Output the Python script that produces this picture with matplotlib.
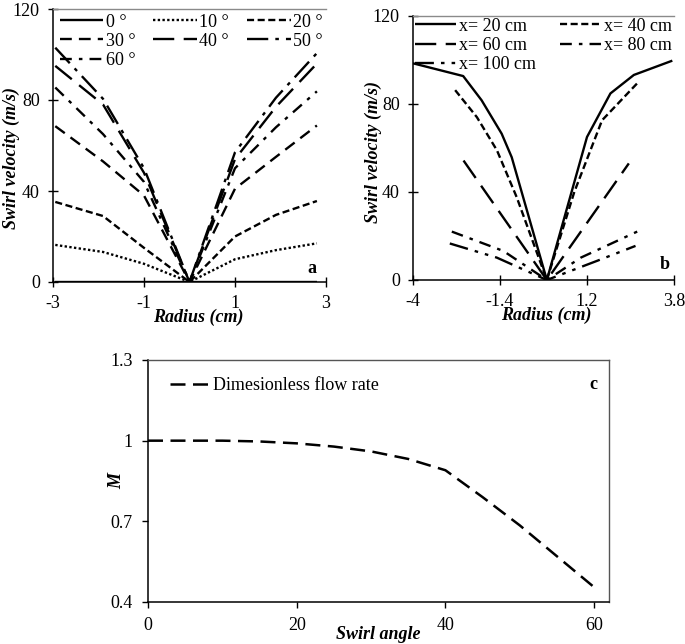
import matplotlib
matplotlib.use("Agg")
import matplotlib.pyplot as plt

plt.rcParams['font.family'] = ['Liberation Serif', 'DejaVu Serif']
plt.rcParams['mathtext.fontset'] = 'stix'

# ---------------- data ----------------
# panel a: swirl velocity vs radius for swirl angles
radius_a = [-2.95, -1.9, -1.0, 0.0, 1.0, 1.9, 2.8]
angle_labels = ['0 °', '10 °', '20 °', '30 °', '40 °', '50 °', '60 °']
v_0 = [0, 0, 0, 0, 0, 0, 0]
v_10 = [16.3, 13.2, 8.0, 0, 10.0, 14.0, 17.0]
v_20 = [35.2, 29.0, 15.0, 0, 20.0, 29.5, 35.6]
v_30 = [68.5, 53.0, 38.0, 0, 41.0, 55.0, 68.8]
v_40 = [95.0, 78.0, 48.0, 0, 54.0, 77.0, 96.0]
v_50 = [103.0, 80.5, 50.0, 0, 57.0, 81.0, 100.6]
v_60 = [85.5, 65.0, 44.0, 0, 50.0, 68.0, 83.8]

# panel b: swirl velocity vs radius at axial positions
pos_labels = ['x= 20 cm', 'x= 40 cm', 'x= 60 cm', 'x= 80 cm', 'x= 100 cm']
r_20 = [-4, -2.5, -1.95, -1.35, -1.05, 0, 1.2, 1.9, 2.6, 3.75]
u_20 = [98.5, 92.7, 81.7, 66.5, 55.8, 0, 65.0, 84.8, 93.2, 99.7]
r_40 = [-2.74, -2.09, -1.49, -0.9, 0, 0.82, 1.65, 2.7]
u_40 = [86.3, 74.0, 58.9, 37.6, 0, 40.0, 72.6, 89.4]
r_60 = [-2.49, 0, 2.45]
u_60 = [54.3, 0, 53.0]
r_80 = [-2.84, -1.3, 0, 1.02, 2.7]
u_80 = [22.0, 13.2, 0, 10.2, 22.0]
r_100 = [-2.9, -1.5, 0, 1.5, 2.65]
u_100 = [16.6, 10.2, 0, 8.7, 15.5]

# panel c: dimensionless flow rate vs swirl angle
swirl_angle = [0, 5, 10, 15, 20, 25, 30, 35, 40, 45, 50, 55, 60]
M_values = [1.0, 1.0, 1.0, 0.997, 0.99, 0.978, 0.96, 0.932, 0.89, 0.79, 0.685, 0.57, 0.455]

# ---------------- figure ----------------
W, H = 685, 644
fig = plt.figure(figsize=(W / 100, H / 100), dpi=100)

def ax_px(l, r, t, b):
    return fig.add_axes([l / W, (H - b) / H, (r - l) / W, (b - t) / H])

lw = 1.7
tick_fs = 13
leg_fs = 13
lab_font = dict(fontsize=13, fontweight='bold', fontstyle='italic')

def style_ab(ax):
    ax.spines['right'].set_visible(False)
    ax.spines['top'].set_color('#8a8a8a')
    ax.spines['top'].set_linewidth(1.0)
    for s in ('left', 'bottom'):
        ax.spines[s].set_linewidth(1.1)
    ax.tick_params(direction='inout', length=7, width=1.0, labelsize=tick_fs, pad=6,
                   top=False, right=False)

def row_major(handles, labels, ncol):
    # reorder so that matplotlib's column-major fill displays row-major
    n = len(handles)
    nrows = -(-n // ncol)
    order = []
    for c in range(ncol):
        for r in range(nrows):
            i = r * ncol + c
            if i < n:
                order.append(i)
    return [handles[i] for i in order], [labels[i] for i in order]

# ---- panel a ----
axa = ax_px(53, 326, 9, 282)
styles_a = ['-', (0, (1, 1)), (0, (3, 1.5)), (0, (5, 3)), (0, (9, 4)),
            (0, (9, 3, 1.5, 3)), (0, (5, 3, 1.5, 3))]
series_a = [v_0, v_10, v_20, v_30, v_40, v_50, v_60]
for vals, ls, lab in zip(series_a, styles_a, angle_labels):
    axa.plot(radius_a, vals, color='black', lw=lw, linestyle=ls, label=lab,
             solid_capstyle='butt', dash_capstyle='butt')
axa.set_xlim(-3, 3)
axa.set_ylim(0, 120)
axa.set_xticks([-3, -1, 1, 3])
axa.set_xticklabels(['-3', '-1', '1', '3'])
axa.set_yticks([0, 40, 80, 120])
style_ab(axa)
axa.set_xlabel('Radius (cm)', **lab_font)
axa.xaxis.set_label_coords(0.531, -0.097)
axa.set_ylabel('Swirl velocity (m/s)', **lab_font)
axa.yaxis.set_label_coords(-0.121, 0.455)
axa.text(0.965, 0.051, 'a', transform=axa.transAxes, ha='right', va='center',
         fontsize=13, fontweight='bold')
h, l = axa.get_legend_handles_labels()
h, l = row_major(h, l, 3)
axa.legend(h, l, loc='upper left', bbox_to_anchor=(0.018, 0.99), ncol=3, frameon=False,
           fontsize=leg_fs, handlelength=2.4, handletextpad=0.15, columnspacing=1.0,
           labelspacing=0.12, borderaxespad=0.0, borderpad=0.1)

# ---- panel b ----
axb = ax_px(413, 674, 16, 280)
xs_b = [r_20, r_40, r_60, r_80, r_100]
ys_b = [u_20, u_40, u_60, u_80, u_100]
styles_b = ['-', (0, (3, 1.5)), (0, (9, 4)), (0, (5, 3, 1.5, 3)),
            (0, (8, 3, 1.5, 3, 1.5, 3))]
for xv, yv, ls, lab in zip(xs_b, ys_b, styles_b, pos_labels):
    axb.plot(xv, yv, color='black', lw=lw, linestyle=ls, label=lab,
             solid_capstyle='butt', dash_capstyle='butt')
axb.set_xlim(-4, 3.8)
axb.set_ylim(0, 120)
axb.set_xticks([-4, -1.4, 1.2, 3.8])
axb.set_xticklabels(['-4', '-1.4', '1.2', '3.8'])
axb.set_yticks([0, 40, 80, 120])
style_ab(axb)
axb.set_xlabel('Radius (cm)', **lab_font)
axb.xaxis.set_label_coords(0.51, -0.1)
axb.set_ylabel('Swirl velocity (m/s)', **lab_font)
axb.yaxis.set_label_coords(-0.118, 0.485)
axb.text(0.985, 0.06, 'b', transform=axb.transAxes, ha='right', va='center',
         fontsize=13, fontweight='bold')
h, l = axb.get_legend_handles_labels()
h, l = row_major(h, l, 2)
axb.legend(h, l, loc='upper left', bbox_to_anchor=(0.0, 1.0), ncol=2, frameon=False,
           fontsize=leg_fs, handlelength=2.3, handletextpad=0.15, columnspacing=1.3,
           labelspacing=0.12, borderaxespad=0.0, borderpad=0.1)

# ---- panel c ----
axc = ax_px(148, 609, 360, 602)
axc.plot(swirl_angle, M_values, color='black', lw=1.8, linestyle=(0, (6, 3)),
         label='Dimesionless flow rate', dash_capstyle='butt')
axc.set_xlim(0, 62)
axc.set_ylim(0.4, 1.3)
axc.set_xticks([0, 20, 40, 60])
axc.set_yticks([0.4, 0.7, 1.0, 1.3])
axc.set_yticklabels(['0.4', '0.7', '1', '1.3'])
for s in ('top', 'right'):
    axc.spines[s].set_color('#555555')
    axc.spines[s].set_linewidth(1.0)
for s in ('left', 'bottom'):
    axc.spines[s].set_linewidth(1.1)
axc.tick_params(direction='out', length=4, width=1.0, labelsize=tick_fs, pad=7)
axc.set_xlabel('Swirl angle', labelpad=-6, **lab_font)
axc.set_ylabel('M', **lab_font)
axc.yaxis.set_label_coords(-0.05, 0.5)
axc.text(0.975, 0.9, 'c', transform=axc.transAxes, ha='right', va='center',
         fontsize=13, fontweight='bold')
axc.legend(loc='upper left', bbox_to_anchor=(0.033, 0.96), frameon=False,
           fontsize=leg_fs, handlelength=2.2, handletextpad=0.15, borderaxespad=0.0)

fig.savefig('out.png', dpi=100)
